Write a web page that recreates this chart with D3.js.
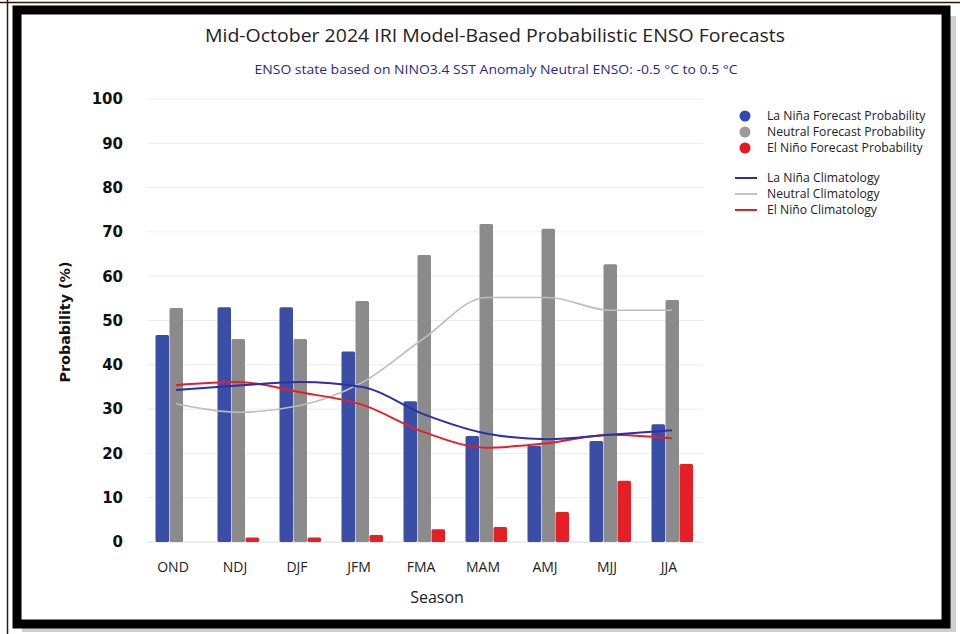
<!DOCTYPE html>
<html>
<head>
<meta charset="utf-8">
<script src="https://cdn.jsdelivr.net/npm/d3@7"></script>
<style>
  body { margin: 0; background: #fff; }
  svg { display: block; font-family: "Open Sans", "DejaVu Sans", sans-serif; }
</style>
</head>
<body>
<div id="chart"></div>
<script>
// Seasons and forecast probabilities (%)
const seasons = ['OND', 'NDJ', 'DJF', 'JFM', 'FMA', 'MAM', 'AMJ', 'MJJ', 'JJA']
const laNina = [46.7, 53, 53, 43, 31.8, 23.9, 21.7, 22.8, 26.6]
const neutral = [52.8, 45.8, 45.8, 54.4, 64.8, 71.8, 70.7, 62.7, 54.6]
const elNino = [0, 1, 1, 1.6, 2.9, 3.4, 6.8, 13.8, 17.6]

// Climatology lines (%)
const laNinaClim = [34.3, 35.3, 36.1, 35, 28.8, 24.5, 23.2, 24.2, 25.2]
const neutralClim = [31.2, 29.3, 30.8, 36, 46, 55.2, 55.2, 52.3, 52.3]
const elNinoClim = [35.4, 36.1, 33.8, 31, 24.8, 21.3, 22.3, 24.2, 23.4]

const yTicks = [0, 10, 20, 30, 40, 50, 60, 70, 80, 90, 100]

const width = 960
const height = 634

d3.select('#chart').selectAll('*').remove()
const svg = d3.select('#chart').append('svg').attr('width', width).attr('height', height)

// Frame: thin dark line, shadow, thick black border
svg.append('line').attr('x1', 0).attr('x2', width).attr('y1', 2.5).attr('y2', 2.5)
  .attr('stroke', '#2a1a10').attr('stroke-width', 1.5)
svg.append('line').attr('x1', 7.5).attr('x2', 7.5).attr('y1', 0).attr('y2', height)
  .attr('stroke', '#2a1a10').attr('stroke-width', 1.5)
svg.append('rect').attr('x', 22).attr('y', 16).attr('width', 934).attr('height', 616)
  .attr('fill', '#bbb').attr('opacity', 0.7)
svg.append('rect').attr('x', 17).attr('y', 10).attr('width', 929).attr('height', 614)
  .attr('fill', '#fff').attr('stroke', '#000').attr('stroke-width', 9)

// Scales
const x = d3.scaleBand().domain(seasons).range([145, 703])
const sub = d3.scaleBand().domain(['la', 'neu', 'el']).range([-21, 21])
const y = d3.scaleLinear().domain([0, 100]).range([542, 99])
const cx = s => x(s) + x.bandwidth() / 2

// Gridlines
svg.append('g').selectAll('line').data(yTicks.filter(d => d > 0)).join('line')
  .attr('x1', 147).attr('x2', 703)
  .attr('y1', d => y(d)).attr('y2', d => y(d))
  .attr('stroke', '#ececec').attr('stroke-width', 1)
svg.append('line').attr('x1', 147).attr('x2', 703).attr('y1', y(0)).attr('y2', y(0))
  .attr('stroke', '#d6dcea').attr('stroke-width', 1)

// Y axis
const yAxis = svg.append('g').attr('transform', 'translate(123,0)')
  .call(d3.axisLeft(y).tickValues(yTicks).tickSize(0).tickPadding(0))
yAxis.select('.domain').remove()
yAxis.selectAll('text').attr('font-size', 15).attr('font-weight', 'bold').attr('fill', '#111')
  .attr('font-family', '"DejaVu Sans", sans-serif')

// X axis labels
const xAxis = svg.append('g').attr('transform', `translate(-3,${y(0)})`)
  .call(d3.axisBottom(x).tickSize(0).tickPadding(20))
xAxis.select('.domain').remove()
xAxis.selectAll('text').attr('font-size', 14).attr('fill', '#222')
  .attr('font-family', '"Open Sans", sans-serif')

// Bars
const series = [
  { key: 'la', values: laNina, color: '#3b4ea6' },
  { key: 'neu', values: neutral, color: '#8b8b8b' },
  { key: 'el', values: elNino, color: '#e61f26' }
]
series.forEach(s => {
  svg.append('g').selectAll('rect').data(seasons).join('rect')
    .attr('x', (d, i) => x(d) + x.bandwidth() / 2 + sub(s.key) + 0.5)
    .attr('width', sub.bandwidth() - 0.5)
    .attr('y', (d, i) => y(s.values[i]))
    .attr('height', (d, i) => y(0) - y(s.values[i]))
    .attr('rx', 1.5)
    .attr('fill', s.color)
})

// Climatology lines
const line = d3.line().x((d, i) => cx(seasons[i])).y(d => y(d)).curve(d3.curveMonotoneX)
const climLines = [
  { values: neutralClim, color: '#bdbdbd', w: 1.6 },
  { values: elNinoClim, color: '#e61f26', w: 2 },
  { values: laNinaClim, color: '#2b2fa8', w: 2 }
]
climLines.forEach(c => {
  svg.append('path').datum(c.values).attr('d', line)
    .attr('fill', 'none').attr('stroke', c.color).attr('stroke-width', c.w)
})

// Titles
svg.append('text').attr('x', 495).attr('y', 42).attr('text-anchor', 'middle')
  .attr('font-size', 18.5).attr('fill', '#222')
  .attr('textLength', 580).attr('lengthAdjust', 'spacingAndGlyphs')
  .text('Mid-October 2024 IRI Model-Based Probabilistic ENSO Forecasts')
svg.append('text').attr('x', 496).attr('y', 74).attr('text-anchor', 'middle')
  .attr('font-size', 12).attr('fill', '#2e1f8c')
  .attr('textLength', 483).attr('lengthAdjust', 'spacingAndGlyphs')
  .text('ENSO state based on NINO3.4 SST Anomaly Neutral ENSO: -0.5 °C to 0.5 °C')

svg.append('text').attr('transform', 'translate(70,322) rotate(-90)').attr('text-anchor', 'middle')
  .attr('font-size', 14).attr('font-weight', 'bold').attr('fill', '#111')
  .attr('font-family', '"DejaVu Sans", sans-serif')
  .attr('textLength', 121).attr('lengthAdjust', 'spacingAndGlyphs')
  .text('Probability (%)')
svg.append('text').attr('x', 437).attr('y', 603).attr('text-anchor', 'middle')
  .attr('font-size', 16).attr('fill', '#222')
  .text('Season')

// Legend
const dotItems = [
  { label: 'La Niña Forecast Probability', color: '#3447b4' },
  { label: 'Neutral Forecast Probability', color: '#9a9a9a' },
  { label: 'El Niño Forecast Probability', color: '#e8181e' }
]
const lineItems = [
  { label: 'La Niña Climatology', color: '#2b2fa8' },
  { label: 'Neutral Climatology', color: '#c4c4c4' },
  { label: 'El Niño Climatology', color: '#e61f26' }
]
const legend = svg.append('g')
dotItems.forEach((d, i) => {
  const yy = 116 + i * 16
  legend.append('circle').attr('cx', 745).attr('cy', yy).attr('r', 5.5).attr('fill', d.color)
  legend.append('text').attr('x', 767).attr('y', yy + 4).attr('font-size', 12.2).attr('fill', '#222').text(d.label)
})
lineItems.forEach((d, i) => {
  const yy = 178 + i * 16
  legend.append('line').attr('x1', 735).attr('x2', 757).attr('y1', yy).attr('y2', yy)
    .attr('stroke', d.color).attr('stroke-width', 2)
  legend.append('text').attr('x', 767).attr('y', yy + 4).attr('font-size', 12.2).attr('fill', '#222').text(d.label)
})
</script>
</body>
</html>
